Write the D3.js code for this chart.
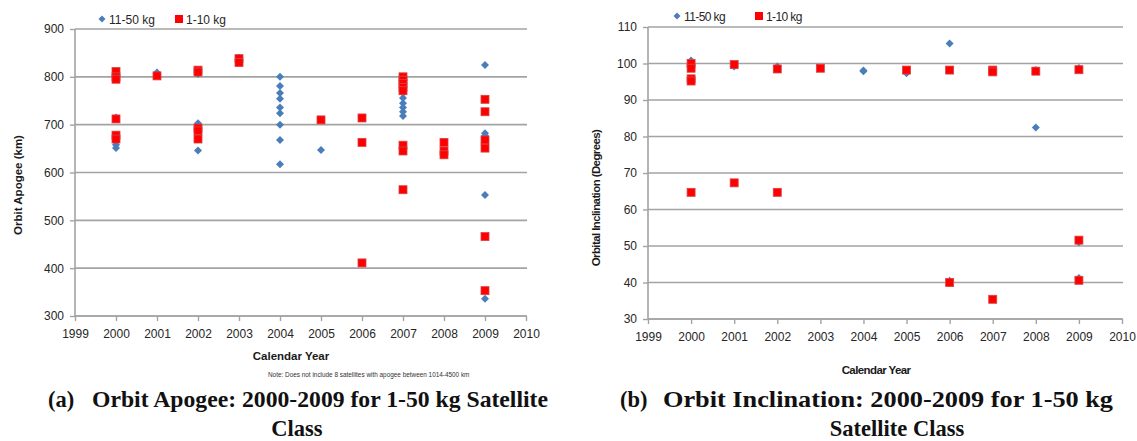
<!DOCTYPE html>
<html>
<head>
<meta charset="utf-8">
<script src="https://cdn.jsdelivr.net/npm/d3@7/dist/d3.min.js"></script>
<style>
  html, body { margin: 0; padding: 0; background: #fff; }
  svg { display: block; }
  .tick-label { font-family: "Liberation Sans", Arial, sans-serif; font-size: 12px; fill: #262626; }
  .axis-title { font-family: "Liberation Sans", Arial, sans-serif; font-size: 11.5px; font-weight: bold; fill: #1a1a1a; }
  .legend-text { font-family: "Liberation Sans", Arial, sans-serif; font-size: 12px; fill: #262626; }
  .caption { font-family: "Liberation Serif", "Times New Roman", serif; font-size: 22.5px; font-weight: bold; fill: #111; }
  .note { font-family: "Liberation Sans", Arial, sans-serif; font-size: 6.4px; fill: #333; }
</style>
</head>
<body>
<svg id="chart" width="1137" height="441"></svg>
<script>
// year ticks shared by both panels
var years = [1999, 2000, 2001, 2002, 2003, 2004, 2005, 2006, 2007, 2008, 2009, 2010];
var apogeeTicks = [300, 400, 500, 600, 700, 800, 900];
var inclTicks = [30, 40, 50, 60, 70, 80, 90, 100, 110];
var seriesNames = ['11-50 kg', '1-10 kg'];

// (a) orbit apogee, km
var apogeeLarge = [
  [2000, 651], [2000, 658], [2000, 715],
  [2001, 809],
  [2002, 806], [2002, 703], [2002, 646],
  [2003, 840],
  [2004, 800], [2004, 781], [2004, 766], [2004, 754], [2004, 736], [2004, 724], [2004, 700], [2004, 668], [2004, 617],
  [2005, 647],
  [2007, 766], [2007, 756], [2007, 745], [2007, 736], [2007, 727], [2007, 718],
  [2008, 639],
  [2009, 825], [2009, 682], [2009, 677], [2009, 553], [2009, 336]
];
var apogeeSmall = [
  [2000, 811], [2000, 800], [2000, 795], [2000, 712], [2000, 678], [2000, 670],
  [2001, 802],
  [2002, 814], [2002, 810], [2002, 693], [2002, 687], [2002, 670],
  [2003, 838], [2003, 830],
  [2005, 710],
  [2006, 714], [2006, 663], [2006, 411],
  [2007, 800], [2007, 793], [2007, 786], [2007, 778], [2007, 771], [2007, 657], [2007, 645], [2007, 564],
  [2008, 663], [2008, 645], [2008, 637],
  [2009, 753], [2009, 727], [2009, 668], [2009, 651], [2009, 466], [2009, 353]
];

// (b) orbit inclination, degrees
var inclLarge = [
  [2000, 100.8], [2001, 99.2], [2002, 99.2],
  [2004, 98.1], [2004, 97.9], [2005, 97.3],
  [2006, 105.5], [2006, 40.5],
  [2008, 98.2], [2008, 82.5],
  [2009, 98.8], [2009, 51.0], [2009, 41.2]
];
var inclSmall = [
  [2000, 100.0], [2000, 98.7], [2000, 95.8], [2000, 95.2], [2000, 64.7],
  [2001, 99.7], [2001, 67.3],
  [2002, 98.5], [2002, 64.7],
  [2003, 98.7],
  [2005, 98.2],
  [2006, 98.2], [2006, 40.0],
  [2007, 98.2], [2007, 97.7], [2007, 35.4],
  [2008, 97.9],
  [2009, 98.3], [2009, 51.6], [2009, 40.6]
];

var BLUE = '#4a7ebb', RED = '#ff0000', GRID = '#a3a3a3';
var svg = d3.select('#chart');

function diamond(g, pts, x, y) {
  g.selectAll('path.dm').data(pts).enter().append('path')
    .attr('class', 'dm')
    .attr('d', 'M0,-4L4,0L0,4L-4,0Z')
    .attr('transform', function(d){ return 'translate(' + x(d[0]) + ',' + y(d[1]) + ')'; })
    .attr('fill', BLUE);
}

function squares(g, pts, x, y) {
  g.selectAll('rect.sq').data(pts).enter().append('rect')
    .attr('class', 'sq')
    .attr('x', function(d){ return x(d[0]) - 4; })
    .attr('y', function(d){ return y(d[1]) - 4; })
    .attr('width', 8).attr('height', 8)
    .attr('fill', RED).attr('stroke', '#d64545').attr('stroke-width', 0.8);
}

function panel(opt) {
  var x = d3.scaleLinear().domain([1999, 2010]).range(opt.xr);
  var y = d3.scaleLinear().domain(opt.yd).range(opt.yr);
  var g = svg.append('g');

  // gridlines
  g.selectAll('line.grid').data(opt.yticks).enter().append('line')
    .attr('x1', opt.xr[0]).attr('x2', opt.xr[1] + 1)
    .attr('y1', function(d){ return y(d); }).attr('y2', function(d){ return y(d); })
    .attr('stroke', GRID).attr('stroke-width', 1.6);

  // axes
  var xa = g.append('g').attr('transform', 'translate(0,' + opt.yr[0] + ')')
    .call(d3.axisBottom(x).tickValues(years).tickFormat(d3.format('d')).tickSize(5).tickPadding(8));
  var ya = g.append('g').attr('transform', 'translate(' + opt.xr[0] + ',0)')
    .call(d3.axisLeft(y).tickValues(opt.yticks).tickSize(5).tickPadding(6));
  [xa, ya].forEach(function(a){
    a.select('.domain').attr('stroke', GRID).attr('stroke-width', 1.6);
    a.selectAll('.tick line').attr('stroke', GRID).attr('stroke-width', 1.4);
    a.selectAll('.tick text').attr('class', 'tick-label').attr('fill', null).attr('font-size', null).attr('font-family', null);
    a.attr('font-size', null).attr('font-family', null);
  });
  ya.select('.domain').attr('d', 'M0,' + opt.yr[0] + 'V' + opt.yr[1]);
  xa.select('.domain').attr('d', 'M' + opt.xr[0] + ',0H' + opt.xr[1]);

  // points
  diamond(g, opt.blue, x, y);
  squares(g, opt.red, x, y);

  // legend
  var lg = g.append('g');
  lg.append('path').attr('d', 'M0,-3.5L3.5,0L0,3.5L-3.5,0Z').attr('fill', BLUE)
    .attr('transform', 'translate(' + opt.leg[0] + ',' + opt.leg[1] + ')');
  lg.append('text').attr('class', 'legend-text').attr('x', opt.leg[0] + 7).attr('y', opt.leg[1] + 4.5)
    .attr('letter-spacing', opt.legSpacing).text(seriesNames[0]);
  lg.append('rect').attr('x', opt.leg[2] - 4).attr('y', opt.leg[1] - 4).attr('width', 8).attr('height', 8).attr('fill', RED);
  lg.append('text').attr('class', 'legend-text').attr('x', opt.leg[2] + 7).attr('y', opt.leg[1] + 4.5)
    .attr('letter-spacing', opt.legSpacing).text(seriesNames[1]);

  // titles
  g.append('text').attr('class', 'axis-title').attr('text-anchor', 'middle')
    .attr('transform', 'translate(' + opt.yt[0] + ',' + opt.yt[1] + ') rotate(-90)')
    .attr('letter-spacing', opt.legSpacing).text(opt.yTitle);
  g.append('text').attr('class', 'axis-title').attr('text-anchor', 'middle')
    .attr('x', opt.xt[0]).attr('y', opt.xt[1]).attr('letter-spacing', opt.legSpacing).text('Calendar Year');
}

panel({
  xr: [75, 526], yd: [300, 900], yr: [316, 29], yticks: apogeeTicks,
  blue: apogeeLarge, red: apogeeSmall,
  leg: [102, 19, 179], legSpacing: 0,
  yTitle: 'Orbit Apogee (km)', yt: [22, 185], xt: [291, 360]
});

panel({
  xr: [648, 1122], yd: [30, 110], yr: [319, 27], yticks: inclTicks,
  blue: inclLarge, red: inclSmall,
  leg: [677, 16, 759], legSpacing: -0.6,
  yTitle: 'Orbital Inclination (Degrees)', yt: [600, 198], xt: [876, 374]
});

svg.append('text').attr('class', 'note').attr('x', 268).attr('y', 377)
  .text('Note: Does not include 8 satellites with apogee between 1014-4500 km');

// figure captions: label and title set apart like a tab stop
function caption(label, lx, title, tx, tw, y) {
  svg.append('text').attr('class', 'caption').attr('x', lx).attr('y', y).text(label);
  svg.append('text').attr('class', 'caption').attr('x', tx).attr('y', y)
    .attr('textLength', tw).attr('lengthAdjust', 'spacingAndGlyphs').text(title);
}
caption('(a)', 48, 'Orbit Apogee: 2000-2009 for 1-50 kg Satellite', 92, 456, 407);
caption('(b)', 620, 'Orbit Inclination: 2000-2009 for 1-50 kg', 663, 450, 407);
svg.append('text').attr('class', 'caption').attr('x', 297).attr('y', 436).attr('text-anchor', 'middle').text('Class');
svg.append('text').attr('class', 'caption').attr('x', 897).attr('y', 436).attr('text-anchor', 'middle').text('Satellite Class');
</script>
</body>
</html>
